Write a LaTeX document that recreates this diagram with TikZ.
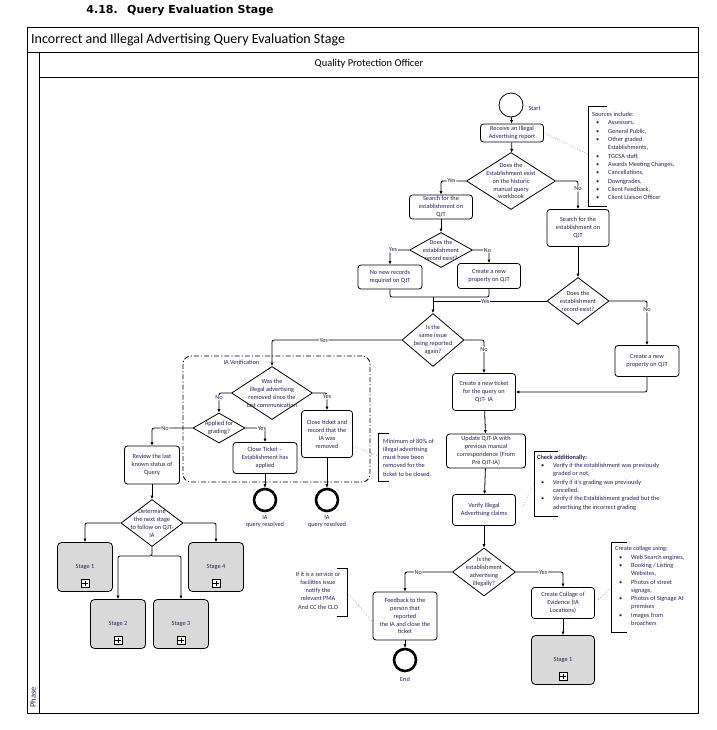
\documentclass[tikz,border=0pt]{standalone}
\usepackage{fontspec}
\setmainfont{Carlito}
\newfontfamily\titlefont{DejaVu Sans}
\usetikzlibrary{shapes.geometric, arrows.meta}

\definecolor{ink}{RGB}{38,34,84}
\definecolor{stagegray}{RGB}{217,217,217}
\newcommand{\nodefont}{\fontsize{6.3}{7.9}\selectfont}
\newcommand{\notefont}{\fontsize{6.3}{8.3}\selectfont}
\newcommand{\bul}{\makebox[16pt][l]{\hspace{4pt}\textbullet}}
\newcommand{\ind}{\hspace*{16pt}}

\begin{document}
\begin{tikzpicture}[x=1pt, y=-1pt,
  txt/.style={font=\nodefont, text=ink, align=center},
  task/.style={txt, draw, fill=white, rounded corners=3pt, line width=0.8pt, inner sep=1pt},
  stage/.style={task, fill=stagegray, minimum width=55, minimum height=49, rounded corners=4pt},
  decision/.style={draw, diamond, fill=white, line width=0.8pt, inner sep=0pt},
  conn/.style={draw, line width=0.8pt, rounded corners=2pt},
  flow/.style={conn, -{Latex[length=3.5pt,width=3.2pt]}},
  lbl/.style={txt, fill=white, inner sep=0.6pt},
  assoc/.style={draw, dotted, line width=0.5pt, black!60},
  brk/.style={draw, line width=0.9pt},
  note/.style={font=\notefont, text=ink, align=left, inner xsep=4pt, anchor=west},
  group/.style={draw, rounded corners=8pt, line width=0.8pt, dash pattern=on 5pt off 2pt on 1.2pt off 2pt},
  startev/.style={circle, draw, line width=0.8pt, minimum size=24, inner sep=0pt},
  endev/.style={circle, draw, line width=2.6pt, minimum size=22, inner sep=0pt},
  heading/.style={font=\titlefont\bfseries\fontsize{11}{13}\selectfont, inner sep=0pt},
  plusbox/.style={draw, fill=white, line width=0.9pt, minimum size=8pt, inner sep=0pt,
    path picture={\draw[line width=1pt]
      ([yshift=-1.4pt]path picture bounding box.north) -- ([yshift=1.4pt]path picture bounding box.south)
      ([xshift=1.4pt]path picture bounding box.west) -- ([xshift=-1.4pt]path picture bounding box.east);}}
]
\useasboundingbox (0,0) rectangle (716,730);

% Title
\node[heading, anchor=base east] (num) at (118,14) {4.18.};
\node[heading, anchor=base west] (title) at (127,14) {Query Evaluation Stage};

% Pool and lane
\draw[line width=0.9pt] (27,27) rectangle (698,713);
\draw[line width=0.9pt] (27,52) -- (698,52);
\draw[line width=0.9pt] (39,52) -- (39,713);
\draw[line width=0.9pt] (39,77) -- (698,77);
\node[anchor=west, inner sep=0pt, font=\fontsize{14}{16}\selectfont] (pool) at (31,40) {Incorrect and Illegal Advertising Query Evaluation Stage};
\node[font=\fontsize{10.5}{12}\selectfont] (lane) at (369,64) {Quality Protection Officer};
\node[rotate=90, anchor=west, font=\fontsize{8.5}{10}\selectfont, text=ink] (phase) at (33,711) {Phase};

% Top: receive and search
\node[startev] (start) at (511,105) {};
\node[txt, anchor=west] (startl) at (525,108) {Start};
\node[task, minimum width=63, minimum height=18] (recv) at (512,133) {Receive an Illegal\\Advertising report};
\node[decision, minimum width=89, minimum height=57,
  label={[txt]center:Does the\\Establishment exist\\on the historic\\manual query\\workbook}] (q1) at (511,181) {};
\node[task, minimum width=63, minimum height=24] (s1) at (441,207) {Search for the\\establishment on\\QJT};
\node[task, minimum width=62, minimum height=37] (s2) at (578,228) {Search for the\\establishment on\\QJT};
\node[decision, minimum width=63, minimum height=35,
  label={[txt]center:Does the\\establishment\\record exist?}] (q2) at (441,250) {};
\node[task, minimum width=64, minimum height=24] (norec) at (390,277) {No new records\\required on QJT};
\node[task, minimum width=63, minimum height=25] (newp) at (489,276) {Create a new\\property on QJT};
\node[decision, minimum width=62, minimum height=47,
  label={[txt]center:Does the\\establishment\\record exist?}] (qr) at (578,301) {};
\node[task, minimum width=64, minimum height=31] (newpR) at (647,361) {Create a new\\property on QJT};
\node[decision, minimum width=62, minimum height=53,
  label={[txt]center:Is the\\same issue\\being reported\\again?}] (same) at (433,340) {};
\coordinate (mrg) at (433,297);
\coordinate (mrgb) at (433,301);

% IA verification group
\node[group, minimum width=187, minimum height=126] (iav) at (276.5,419) {};
\node[txt, anchor=west] (iavl) at (220,362) {IA Verification};
\node[decision, minimum width=81, minimum height=53,
  label={[txt]center:Was the\\illegal advertising\\removed since the\\last communication}] (was) at (272,393) {};
\node[task, minimum width=51, minimum height=47] (closeR) at (327,434) {Close ticket and\\record that the\\IA was\\removed};
\node[decision, minimum width=52, minimum height=30,
  label={[txt]center:Applied for\\grading?}] (app) at (219,428) {};
\node[task, minimum width=64, minimum height=31] (closeA) at (265,458) {Close Ticket --\\Establishment has\\applied};
\node[endev] (endA) at (265,500) {};
\node[endev] (endB) at (327,500) {};
\node[txt] (endAl) at (265,521.5) {IA\\query resolved};
\node[txt] (endBl) at (327,521.5) {IA\\query resolved};

% Left: stages
\node[task, minimum width=55, minimum height=38] (review) at (152,465) {Review the last\\known status of\\Query};
\node[decision, minimum width=62, minimum height=47,
  label={[txt]center:Determine\\the next stage\\to follow on QJT-\\IA}] (det) at (152,523) {};
\coordinate (detfork) at (152,556);
\node[stage] (st1) at (85,567) {Stage 1};
\node[stage] (st4) at (216,567) {Stage 4};
\node[stage] (st2) at (118,624) {Stage 2};
\node[stage] (st3) at (181,624) {Stage 3};

% Middle column
\node[task, minimum width=63, minimum height=37] (ticket) at (484,392) {Create a new ticket\\for the query on\\QJT- IA};
\node[task, minimum width=79, minimum height=34] (update) at (486,451) {Update QJT-IA with\\previous manual\\correspondence (From\\Pre QJT-IA)};
\node[task, minimum width=63, minimum height=31] (verify) at (484,510) {Verify Illegal\\Advertising claims};
\node[decision, minimum width=63, minimum height=48,
  label={[txt]center:Is the\\establishment\\advertising\\illegally?}] (illeg) at (484,572) {};
\node[task, minimum width=64, minimum height=48] (feed) at (405,616) {Feedback to the\\person that\\reported\\the IA and close the\\ticket};
\node[endev] (endC) at (405,660) {};
\node[txt] (endCl) at (405,679) {End};
\node[task, minimum width=63, minimum height=31] (coll) at (563,603) {Create Collage of\\Evidence (IA\\Locations)};
\node[stage, minimum width=63] (stR) at (563,660) {Stage 1};

% Sub-process markers
\foreach \s in {st1,st2,st3,st4,stR} {
  \node[plusbox] (\s-plus) at ([yshift=8.5pt]\s.south) {};
}

% Sequence flows
\draw[flow] (start) -- (recv);
\draw[flow] (recv) -- (q1);
\draw[flow] (q1.west) -| node[lbl, pos=0.29] {Yes} (s1.north);
\draw[flow] (q1.east) -| node[lbl, pos=0.64] {No} (s2.north);
\draw[flow] (s1) -- (q2);
\draw[flow] (s2) -- (qr);
\draw[flow] (q2.west) -| node[lbl, pos=0.42] {Yes} (norec.north);
\draw[flow] (q2.east) -| node[lbl, pos=0.45] {No} (newp.north);
\draw[flow] (qr.east) -| node[lbl, pos=0.6] {No} (newpR.north);
\draw[conn] (norec.south) |- (mrg);
\draw[conn] (newp.south) |- (mrg);
\draw[conn] (qr.west) -- node[lbl, pos=0.54] {Yes} (mrgb);
\draw[flow] (mrg) -- (same.north);
\draw[flow] (newpR.south) |- (ticket.east);
\draw[flow] (same.east) -| node[lbl, pos=0.64] {No} (ticket.north);
\draw[flow] (same.west) -| node[lbl, pos=0.3] {Yes} (was.north);
\draw[flow] (was.west) -| node[lbl, pos=0.62] {No} (app.north);
\draw[flow] (was.east) -| node[lbl, pos=0.61] {Yes} (closeR.north);
\draw[flow] (app.east) -| node[lbl, pos=0.42] {Yes} (closeA.north);
\draw[flow] (app.west) -| node[lbl, pos=0.34] {No} (review.north);
\draw[flow] (closeA) -- (endA);
\draw[flow] (closeR) -- (endB);
\draw[flow] (review) -- (det);
\draw[flow] (det.west) -| (st1.north);
\draw[flow] (det.east) -| (st4.north);
\draw[flow] (det.south) -- (detfork) -| (st2.north);
\draw[flow] (detfork) -| (st3.north);
\draw[flow] (ticket) -- (update);
\draw[flow] (update) -- (verify);
\draw[flow] (verify) -- (illeg);
\draw[flow] (illeg.west) -| node[lbl, pos=0.36] {No} (feed.north);
\draw[flow] (illeg.east) -| node[lbl, pos=0.29] {Yes} (coll.north);
\draw[flow] (feed) -- (endC);
\draw[flow] (coll) -- (stR);

% Annotations
\node[note] (src) at (588,156) {Sources include:\\
  \bul Assessors,\\
  \bul General Public,\\
  \bul Other graded\\
  \ind Establishments,\\
  \bul TGCSA staff,\\
  \bul Awards Meeting Changes,\\
  \bul Cancellations,\\
  \bul Downgrades,\\
  \bul Client Feedback,\\
  \bul Client Liaison Officer};
\draw[brk] (607,106) -- (588,106) -- (588,206) -- (607,206);
\coordinate (srcB) at (588,154);
\draw[assoc] (recv.east) -- (srcB);

\node[note, inner xsep=5pt] (minnote) at (378,457.5) {Minimum of 80\% of\\illegal advertising\\must have been\\removed for the\\ticket to be closed.};
\draw[brk] (389,433) -- (378,433) -- (378,481) -- (389,481);
\coordinate (minB) at (378,456);
\draw[assoc] ([yshift=-12pt]closeR.east) -- (minB);

\node[note, inner xsep=3pt] (chk) at (534,482.5) {\textbf{Check additionally:}\\
  \bul Verify if the establishment was previously\\
  \ind graded or not,\\
  \bul Verify if it's grading was previously\\
  \ind cancelled,\\
  \bul Verify if the Establishment graded but the\\
  \ind advertising the incorrect grading};
\draw[brk] (558,451) -- (534,451) -- (534,516) -- (558,516);
\coordinate (chkB) at (534,482);
\draw[assoc] ([xshift=7pt,yshift=3pt]verify.east) -- (chkB);

\node[txt, font=\notefont] (svc) at (318,590.5) {If it is a service or\\facilities issue\\notify the\\relevant PMA\\And CC the CLO};
\draw[brk] (337,568) -- (347,568) -- (347,616) -- (337,616);
\coordinate (svcB) at (347,592);
\draw[assoc] (svcB) -- ([yshift=-6pt]feed.west);

\node[note] (col) at (611,586) {Create collage using:\\
  \bul Web Search engines,\\
  \bul Booking / Listing\\
  \ind Websites,\\
  \bul Photos of street\\
  \ind signage,\\
  \bul Photos of Signage At\\
  \ind premises\\
  \bul Images from\\
  \ind broachers};
\draw[brk] (627,542) -- (611,542) -- (611,632) -- (627,632);
\coordinate (colB) at (611,588);
\draw[assoc] (coll.east) -- (colB);

\end{tikzpicture}
\end{document}
